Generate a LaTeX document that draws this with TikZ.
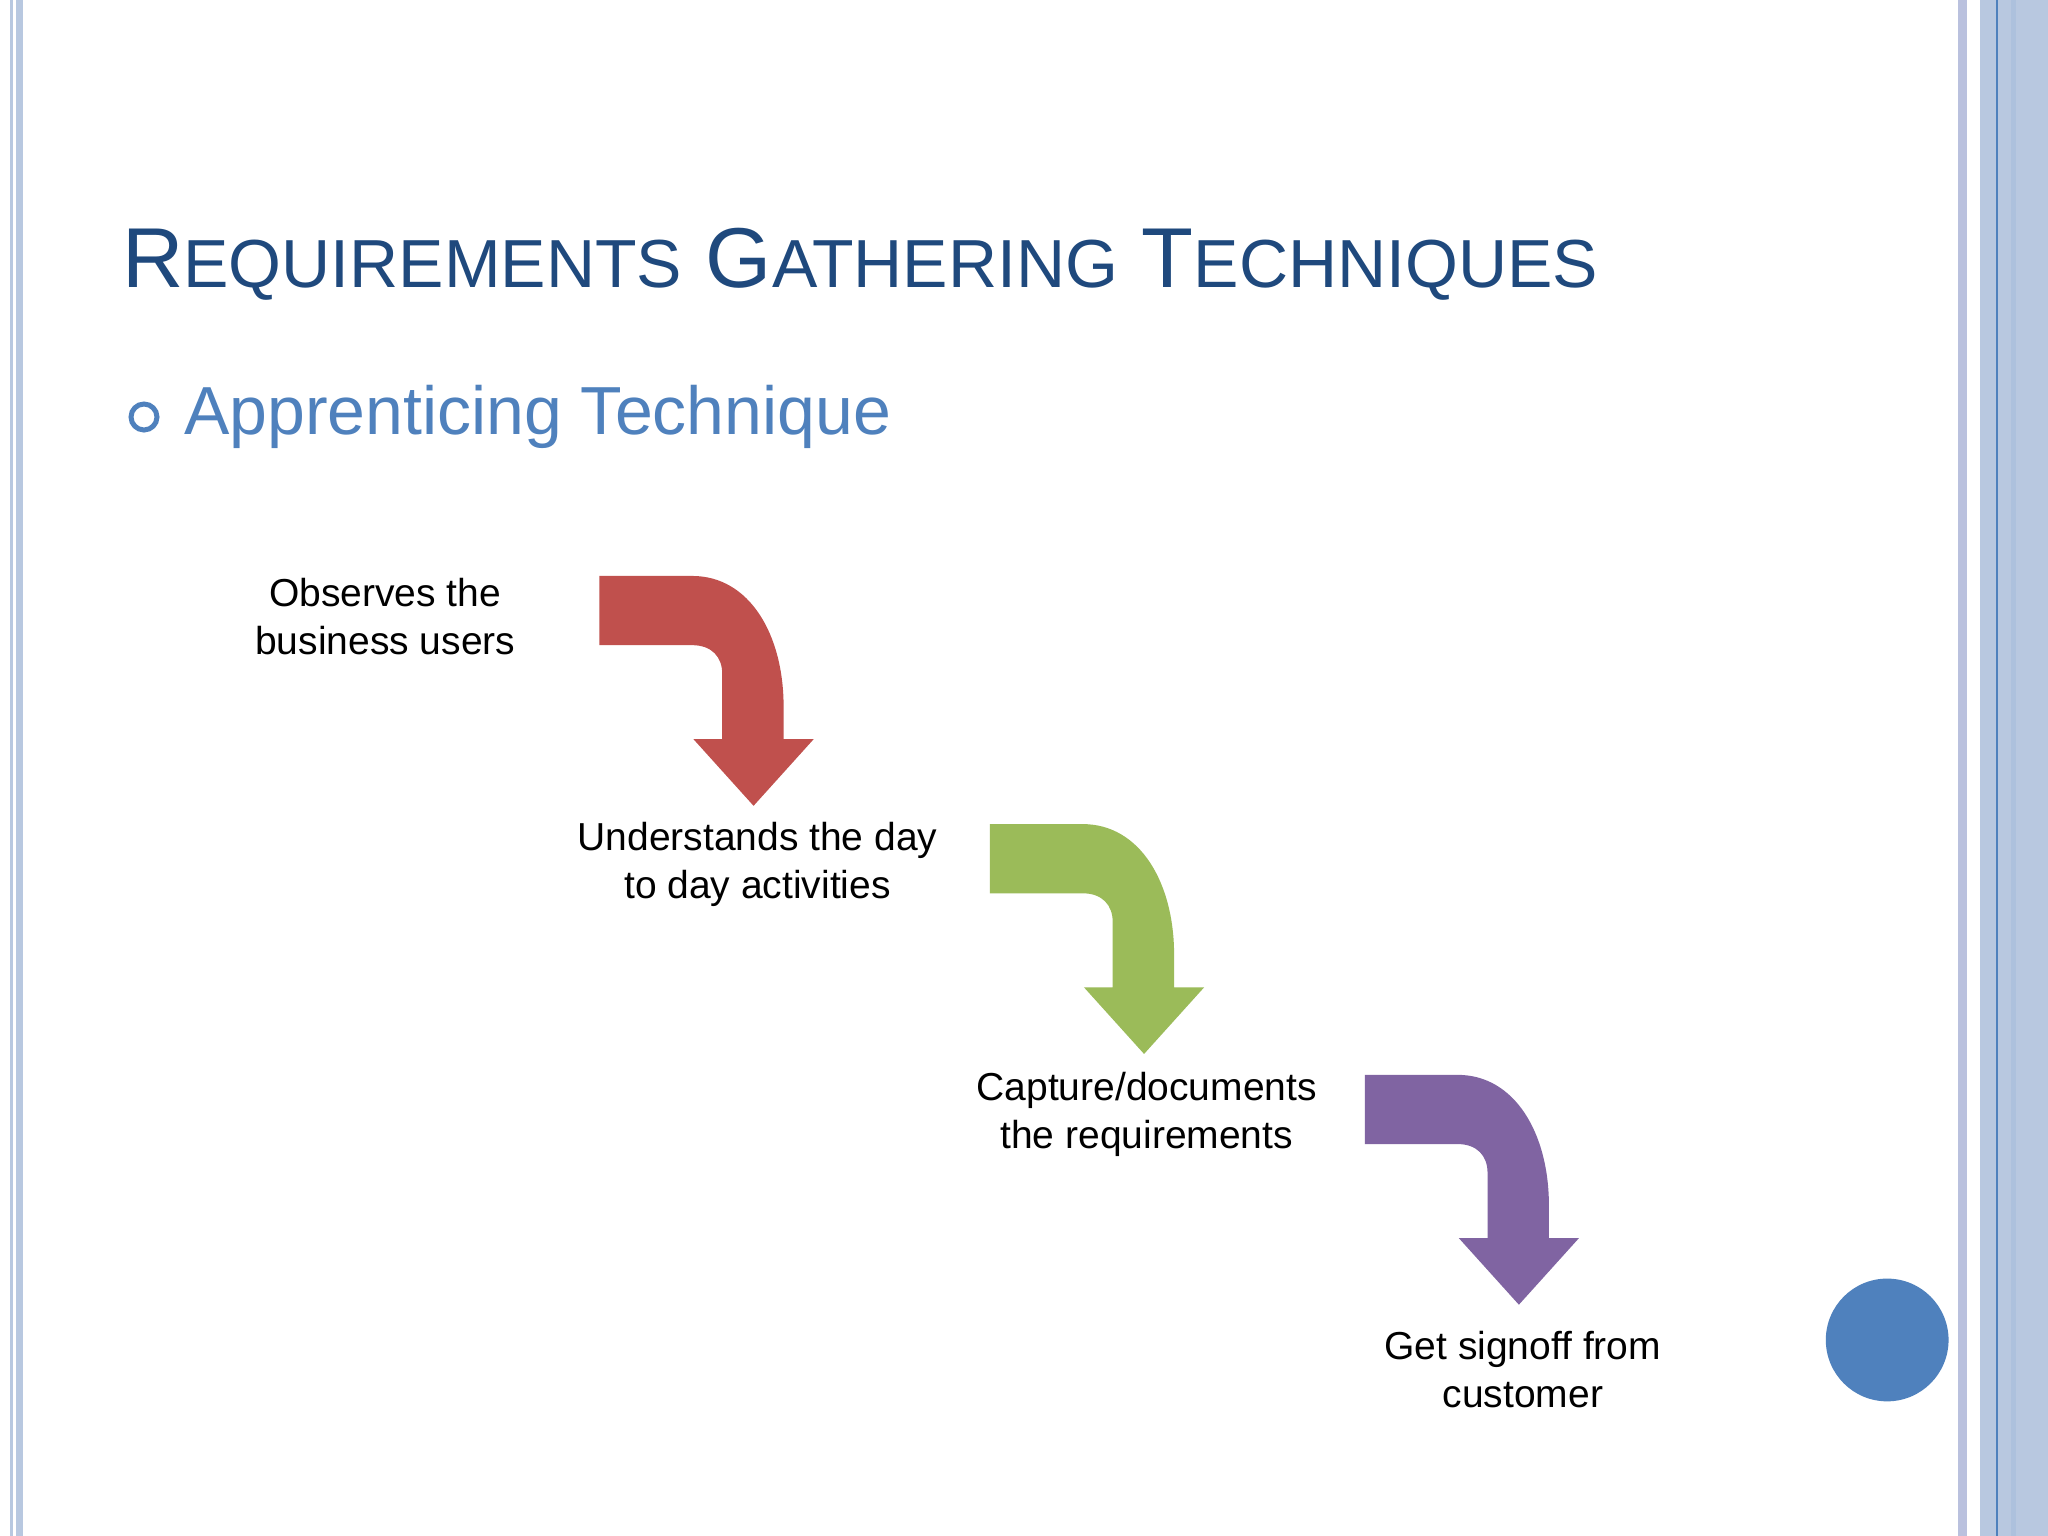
\documentclass[tikz,border=0pt]{standalone}
\usepackage{fontspec}
\setmainfont{Liberation Sans}
\begin{document}
\begin{tikzpicture}[x=1pt,y=-1pt,
  lbl/.style={align=center,font=\fontsize{39}{48}\selectfont,text=black},
  bend/.pic={\fill[pic actions] (0,0) -- (71,0) .. controls (115,0) and (141,45) .. (141,100) -- (141,125) -- (164,125) -- (118,176) -- (72,125) -- (94,125) -- (94,75) .. controls (94,62) and (86,53) .. (71,53) -- (0,53) -- cycle;}]
\definecolor{tblue}{HTML}{1F497D}
\definecolor{acc}{HTML}{4F81BD}
\definecolor{bar}{HTML}{B8C8E0}
\definecolor{lav}{HTML}{BAC1DE}
\useasboundingbox (0,0) rectangle (2048,1536);
\fill[white] (0,0) rectangle (2048,1536);
% borders
\fill[bar] (10,0) rectangle (13,1536);
\fill[bar] (16,0) rectangle (23,1536);
\fill[lav] (1958,0) rectangle (1967,1536);
\fill[bar] (1980,0) rectangle (2048,1536);
\fill[acc] (1996,0) rectangle (1998,1536);
\fill[bar!90!acc] (2011,0) rectangle (2016,1536);
% title
\node[anchor=base west,inner sep=0,text=tblue,font=\fontsize{85}{90}\selectfont] (title) at (122,287)
 {R{\fontsize{68}{70}\selectfont EQUIREMENTS} G{\fontsize{68}{70}\selectfont ATHERING} T{\fontsize{68}{70}\selectfont ECHNIQUES}};
\node[draw=acc,line width=5pt,circle,minimum size=26pt,inner sep=0] (bul) at (144,417) {};
\node[anchor=base west,inner sep=0,text=acc,font=\fontsize{68}{70}\selectfont] (sub) at (184,434) {Apprenticing Technique};
\begin{scope}[scale=1.306]
\pic[scale=1.306,fill={rgb,255:red,192;green,80;blue,77}] (a1) at (459,441) {bend};
\pic[scale=1.306,fill={rgb,255:red,155;green,187;blue,89}] (a2) at (758,631) {bend};
\pic[scale=1.306,fill={rgb,255:red,128;green,100;blue,162}] (a3) at (1045,823) {bend};
\node[lbl] (t1) at (295,472) {Observes the\\business users};
\node[lbl] (t2) at (580,662) {Understands the day\\to day activities};
\node[lbl] (t3) at (878,853) {Capture/documents\\the requirements};
\node[lbl] (t4) at (1166,1049) {Get signoff from\\customer};
\fill[acc] (1445,1026) circle (47);
\end{scope}
\end{tikzpicture}
\end{document}
